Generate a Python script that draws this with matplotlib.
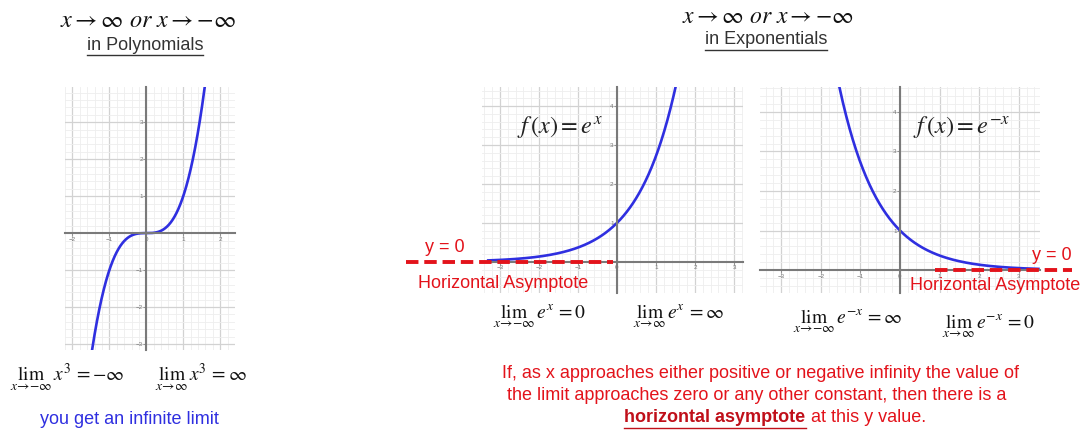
import numpy as np
import matplotlib.pyplot as plt
from matplotlib.ticker import MultipleLocator
from matplotlib.lines import Line2D

W, H = 1085, 433
plt.rcParams['mathtext.fontset'] = 'stix'
plt.rcParams['font.family'] = ['Liberation Sans', 'DejaVu Sans']

# domains of the drawn curves
cubic_x = (-1.47, 1.58)
exp_x = (-3.3, 1.5)
expneg_x = (-1.53, 3.5)

poly_xticks = [-2, -1, 0, 1, 2]
poly_yticks = [-3, -2, -1, 1, 2, 3]
exp_xticks = [-3, -2, -1, 0, 1, 2, 3]
exp_yticks = [1, 2, 3, 4]

# horizontal asymptote y = 0, segment drawn for each exponential
asym_y = 0
asym_left = (-5.4, -0.1)
asym_right = (0.89, 4.35)

BLUE = '#2f2fe0'
RED = '#e3131b'
FS = 13

fig = plt.figure(figsize=(W / 100, H / 100), dpi=100)


def fx(x):
    return x / W


def fy(y):
    return 1 - y / H


def px_box(l, t, r, b):
    return [l / W, 1 - b / H, (r - l) / W, (b - t) / H]


def grid_axes(rect, xlim, ylim, xticks, yticks):
    ax = fig.add_axes(px_box(*rect))
    ax.set_xlim(xlim)
    ax.set_ylim(ylim)
    ax.set_xticks(xticks)
    ax.set_yticks(yticks)
    ax.xaxis.set_minor_locator(MultipleLocator(0.2))
    ax.yaxis.set_minor_locator(MultipleLocator(0.2))
    ax.grid(which='major', color='#d2d2d2', lw=0.9)
    ax.grid(which='minor', color='#eeeeee', lw=0.6)
    ax.set_axisbelow(True)
    for s in ['top', 'right']:
        ax.spines[s].set_visible(False)
    for s in ['left', 'bottom']:
        ax.spines[s].set_position(('data', 0))
        ax.spines[s].set_color('#7a7a7a')
        ax.spines[s].set_linewidth(1.5)
    ax.tick_params(which='major', length=2, width=0.6, color='#888888',
                   labelsize=4.5, labelcolor='#777777', pad=0.5)
    ax.tick_params(which='minor', length=0)
    return ax


def underline(t, lw=1.0, gap=1):
    fig.canvas.draw()
    bb = t.get_window_extent()
    y = (bb.y0 - gap) / H
    fig.add_artist(Line2D([bb.x0 / W, bb.x1 / W], [y, y],
                          color=t.get_color(), lw=lw))


# polynomial
ax1 = grid_axes((65, 87, 235, 350), (-2.2, 2.4), (-3.16, 3.95),
                poly_xticks, poly_yticks)
x = np.linspace(*cubic_x, 300)
ax1.plot(x, x ** 3, color=BLUE, lw=1.9)

# e^x
ax2 = grid_axes((482, 87, 743, 293), (-3.46, 3.23), (-0.8, 4.49),
                exp_xticks, exp_yticks)
x = np.linspace(*exp_x, 300)
ax2.plot(x, np.exp(x), color=BLUE, lw=1.9)
ax2.plot(asym_left, [asym_y, asym_y], color=RED, lw=2.8,
         dashes=(3.2, 1.5), solid_capstyle='butt', clip_on=False, zorder=5)

# e^-x
ax3 = grid_axes((760, 87, 1040, 293), (-3.54, 3.54), (-0.58, 4.63),
                exp_xticks, exp_yticks)
x = np.linspace(*expneg_x, 300)
ax3.plot(x, np.exp(-x), color=BLUE, lw=1.9)
ax3.plot(asym_right, [asym_y, asym_y], color=RED, lw=2.8,
         dashes=(3.2, 1.5), solid_capstyle='butt', clip_on=False, zorder=5)

# headings
title = r'$x\rightarrow\infty\ \mathit{or}\ x\rightarrow{-}\infty$'
fig.text(fx(148), fy(21), title, ha='center', va='center', fontsize=17.5,
         color='#111111')
t = fig.text(fx(145), fy(45), 'in Polynomials', ha='center', va='center',
             fontsize=FS, color='#333333')
underline(t)
fig.text(fx(768), fy(17), title, ha='center', va='center', fontsize=17,
         color='#111111')
t = fig.text(fx(766), fy(40), 'in Exponentials', ha='center', va='center',
             fontsize=FS, color='#333333')
underline(t)

# function labels
fig.text(fx(560), fy(127), r'$f\,\left(x\right)=e^{x}$', ha='center',
         va='center', fontsize=17.5, color='#222222')
fig.text(fx(962), fy(127), r'$f\,\left(x\right)=e^{-x}$', ha='center',
         va='center', fontsize=17.5, color='#222222')

# asymptote labels
fig.text(fx(445), fy(248), 'y = 0', ha='center', va='center',
         fontsize=FS, color=RED)
fig.text(fx(503), fy(284), 'Horizontal Asymptote', ha='center',
         va='center', fontsize=FS, color=RED, zorder=6)
fig.text(fx(1052), fy(255), 'y = 0', ha='center', va='center',
         fontsize=FS, color=RED)
fig.text(fx(995), fy(286), 'Horizontal Asymptote', ha='center',
         va='center', fontsize=FS, color=RED, zorder=6)

# limits
lims = [
    (10, 378, r'$\lim_{x\to-\infty}\,x^3=-\infty$'),
    (155, 378, r'$\lim_{x\to\infty}\,x^3=\infty$'),
    (493, 316, r'$\lim_{x\to-\infty}\,e^{x}=0$'),
    (633, 316, r'$\lim_{x\to\infty}\,e^{x}=\infty$'),
    (793, 321, r'$\lim_{x\to-\infty}\,e^{-x}=\infty$'),
    (942, 326, r'$\lim_{x\to\infty}\,e^{-x}=0$'),
]
for lx, ly, s in lims:
    fig.text(fx(lx), fy(ly), s, ha='left', va='center', fontsize=14,
             color='#111111')

fig.text(fx(129), fy(419), 'you get an infinite limit', ha='center',
         va='center', fontsize=FS, color=BLUE)

# note about horizontal asymptotes
fig.text(fx(760), fy(373),
         'If, as x approaches either positive or negative infinity the value of',
         ha='center', va='center', fontsize=FS, color=RED)
fig.text(fx(757), fy(396),
         'the limit approaches zero or any other constant, then there is a',
         ha='center', va='center', fontsize=FS, color=RED)
t1 = fig.text(0, fy(418), 'horizontal asymptote', ha='left',
              va='center', fontsize=FS, color='#c0101a', fontweight='bold')
t2 = fig.text(0, fy(418), ' at this y value.', ha='left', va='center',
              fontsize=FS, color=RED)
fig.canvas.draw()
w1 = t1.get_window_extent().width
w2 = t2.get_window_extent().width
left = 775 - (w1 + w2) / 2
t1.set_x(fx(left))
t2.set_x(fx(left + w1))
underline(t1)

fig.savefig('out.png', dpi=100, facecolor='white')
